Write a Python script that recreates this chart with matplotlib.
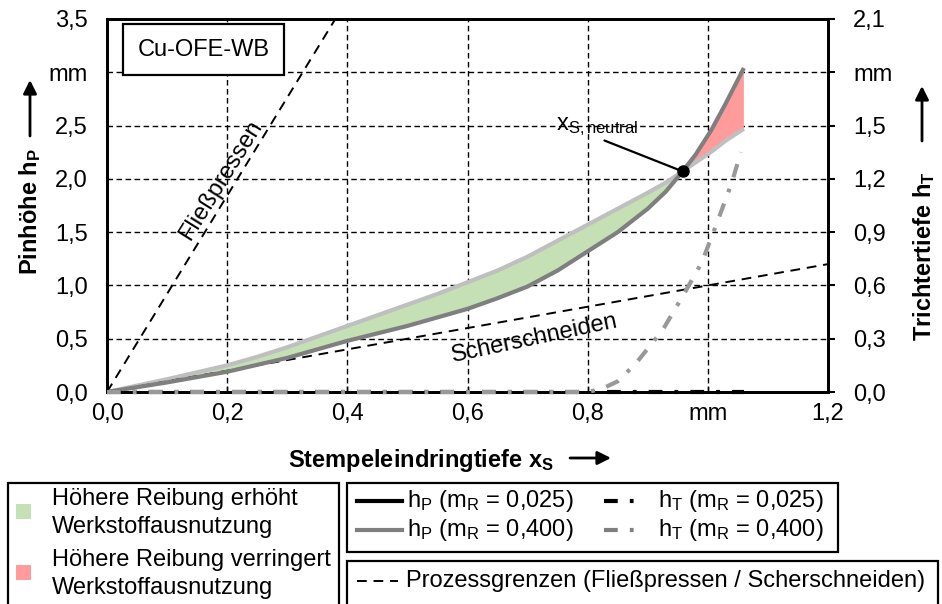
import numpy as np
import matplotlib
matplotlib.use('Agg')
import matplotlib.pyplot as plt
from matplotlib.patches import Rectangle
from matplotlib.lines import Line2D

plt.rcParams['font.family'] = ['Liberation Sans', 'DejaVu Sans']
plt.rcParams['mathtext.fontset'] = 'custom'
plt.rcParams['mathtext.rm'] = 'Liberation Sans'
plt.rcParams['mathtext.it'] = 'Liberation Sans'
plt.rcParams['mathtext.bf'] = 'Liberation Sans:bold'

FS = 17

# Stempeleindringtiefe x_S in mm
x_p = [0, 0.05, 0.1, 0.15, 0.2, 0.25, 0.3, 0.35, 0.4, 0.45, 0.5, 0.55, 0.6,
       0.65, 0.7, 0.75, 0.8, 0.85, 0.9, 0.93, 0.958, 0.98, 1.006, 1.03, 1.06]
# Pinhoehe h_P in mm
hp_low = [0, 0.045, 0.09, 0.14, 0.19, 0.255, 0.32, 0.40, 0.48, 0.55, 0.62, 0.70, 0.78,
          0.88, 0.99, 1.14, 1.32, 1.50, 1.72, 1.88, 2.07, 2.23, 2.46, 2.71, 3.04]
hp_high = [0, 0.06, 0.12, 0.185, 0.25, 0.33, 0.42, 0.52, 0.62, 0.72, 0.82, 0.92, 1.03,
           1.14, 1.27, 1.42, 1.57, 1.72, 1.87, 1.965, 2.07, 2.155, 2.255, 2.36, 2.47]

# Trichtertiefe h_T in mm
x_t_high = [0, 0.8, 0.825, 0.85, 0.88, 0.925, 0.96, 0.99, 1.015, 1.04, 1.055]
ht_high = [0, 0, 0.02, 0.06, 0.16, 0.35, 0.55, 0.73, 0.95, 1.18, 1.35]
x_t_low = [0, 1.06]
ht_low = [0, 0]

# Prozessgrenzen
x_fliess = [0, 0.38]
h_fliess = [0, 3.5]
x_scher = [0, 1.2]
h_scher = [0, 1.2]

x_neutral = 0.958
h_neutral = 2.07

xticks = [0, 0.2, 0.4, 0.6, 0.8, 1.0, 1.2]
xlabels = ['0,0', '0,2', '0,4', '0,6', '0,8', 'mm', '1,2']
yticks = [0, 0.5, 1.0, 1.5, 2.0, 2.5, 3.0, 3.5]
ylabels = ['0,0', '0,5', '1,0', '1,5', '2,0', '2,5', 'mm', '3,5']
y2ticks = [0, 0.3, 0.6, 0.9, 1.2, 1.5, 1.8, 2.1]
y2labels = ['0,0', '0,3', '0,6', '0,9', '1,2', '1,5', 'mm', '2,1']

W, H = 942, 604
fig = plt.figure(figsize=(W / 100, H / 100), dpi=100)
ax = fig.add_axes([107 / W, 1 - 392 / H, 721 / W, 373 / H])
ax2 = ax.twinx()

dark = '#7f7f7f'
light = '#bfbfbf'
green = '#c5e0b4'
red = '#ff9b9b'

xp = np.array(x_p)
lo = np.array(hp_low)
hi = np.array(hp_high)
ax.fill_between(xp, lo, hi, where=hi >= lo, interpolate=True, color=green, lw=0, zorder=2)
ax.fill_between(xp, lo, hi, where=lo >= hi, interpolate=True, color=red, lw=0, zorder=2)
ax.plot(x_p, hp_high, color=light, lw=3, zorder=3, solid_capstyle='butt', solid_joinstyle='round')
ax.plot(x_p, hp_low, color=dark, lw=3, zorder=4, solid_capstyle='butt', solid_joinstyle='round')

ax.plot(x_fliess, h_fliess, color='k', lw=1.4, ls=(0, (5, 3.5)), zorder=3)
ax.plot(x_scher, h_scher, color='k', lw=1.4, ls=(0, (5, 3.5)), zorder=3)

ax.plot([x_neutral], [h_neutral], 'o', color='k', ms=8, zorder=6)
ax.annotate(r'x$_\mathrm{S,neutral}$', xy=(x_neutral, h_neutral), xytext=(0.748, 2.46),
            fontsize=FS, ha='left', va='baseline',
            arrowprops=dict(arrowstyle='-', color='k', lw=1.6,
                            shrinkA=0, shrinkB=0, relpos=(0.5, 0)), zorder=6)

ax.text(0.19, 1.99, 'Fließpressen', fontsize=FS, rotation=58,
        ha='center', va='center', rotation_mode='anchor')
ax.text(0.712, 0.50, 'Scherschneiden', fontsize=FS, rotation=12,
        ha='center', va='center', rotation_mode='anchor')

ax.text(0.134, 0.918, 'Cu-OFE-WB', fontsize=FS, transform=ax.transAxes,
        ha='center', va='center',
        bbox=dict(boxstyle='square,pad=0.6', fc='white', ec='k', lw=1.6))

ax2.plot(x_t_low, ht_low, color='k', lw=3, ls=(0, (3.3, 2.9, 0.9, 2.9)), clip_on=False, zorder=5)
ax2.plot(x_t_high, ht_high, color='#999999', lw=3, ls=(0, (3.3, 2.9, 0.9, 2.9)),
         clip_on=False, zorder=5)

ax.set_xlim(0, 1.2)
ax.set_ylim(0, 3.5)
ax2.set_ylim(0, 2.1)
ax.set_xticks(xticks)
ax.set_xticklabels(xlabels)
ax.set_yticks(yticks)
ax.set_yticklabels(ylabels)
ax2.set_yticks(y2ticks)
ax2.set_yticklabels(y2labels)

ax.grid(True, color='k', lw=1.0, ls=(0, (4, 2.5)))
ax.set_axisbelow(True)
ax.tick_params(axis='x', direction='in', length=4, width=1, labelsize=FS, pad=8)
ax.tick_params(axis='y', direction='in', length=0, labelsize=FS, pad=14)
ax2.tick_params(axis='y', direction='out', length=5, width=1.5, labelsize=FS, pad=13)
for a in (ax, ax2):
    for s in a.spines.values():
        s.set_linewidth(2)
ax2.set_zorder(ax.get_zorder() + 1)

# overlay in pixel coordinates for axis titles and legends
lax = fig.add_axes([0, 0, 1, 1], facecolor='none')
lax.set_xlim(0, W)
lax.set_ylim(H, 0)
lax.axis('off')

arrow = dict(arrowstyle='-|>', color='k', lw=2, mutation_scale=20, shrinkA=0, shrinkB=0)
lax.text(30, 212, r'Pinhöhe $\mathbf{h_P}$', fontsize=FS, fontweight='bold',
         rotation=90, ha='center', va='center')
lax.annotate('', xy=(30, 80), xytext=(30, 136), arrowprops=arrow)
lax.text(924, 256, r'Trichtertiefe $\mathbf{h_T}$', fontsize=FS, fontweight='bold',
         rotation=90, ha='center', va='center')
lax.annotate('', xy=(922, 86), xytext=(922, 141), arrowprops=arrow)
lax.text(421, 461, r'Stempeleindringtiefe $\mathbf{x_S}$', fontsize=FS, fontweight='bold',
         ha='center', va='center')
lax.annotate('', xy=(611, 458), xytext=(570, 458), arrowprops=arrow)

# legend boxes
lax.add_patch(Rectangle((8, 483), 331, 140, fc='white', ec='k', lw=1.6))
lax.add_patch(Rectangle((347, 483), 491, 69, fc='white', ec='k', lw=1.6))
lax.add_patch(Rectangle((347, 561), 591, 60, fc='white', ec='k', lw=1.6))

lax.add_patch(Rectangle((16, 504), 15, 15, fc=green, ec='none'))
lax.add_patch(Rectangle((16, 565), 15, 15, fc=red, ec='none'))
lax.text(52, 513, 'Höhere Reibung erhöht\nWerkstoffausnutzung', fontsize=FS,
         ha='left', va='center', linespacing=1.36)
lax.text(52, 574, 'Höhere Reibung verringert\nWerkstoffausnutzung', fontsize=FS,
         ha='left', va='center', linespacing=1.36)

dd = (0, (3.3, 2.9, 0.9, 2.9))
lax.add_line(Line2D([357, 402], [501, 501], color='k', lw=3))
lax.add_line(Line2D([357, 402], [530, 530], color=dark, lw=3))
lax.add_line(Line2D([604, 635], [501, 501], color='k', lw=3, ls=dd))
lax.add_line(Line2D([604, 635], [530, 530], color=dark, lw=3, ls=dd))
lax.text(407, 501, r'h$_\mathrm{P}$ (m$_\mathrm{R}$ = 0,025)', fontsize=FS, ha='left', va='center')
lax.text(407, 530, r'h$_\mathrm{P}$ (m$_\mathrm{R}$ = 0,400)', fontsize=FS, ha='left', va='center')
lax.text(658, 501, r'h$_\mathrm{T}$ (m$_\mathrm{R}$ = 0,025)', fontsize=FS, ha='left', va='center')
lax.text(658, 530, r'h$_\mathrm{T}$ (m$_\mathrm{R}$ = 0,400)', fontsize=FS, ha='left', va='center')

lax.add_line(Line2D([357, 398], [581, 581], color='k', lw=1.4, ls=(0, (5, 3.5))))
lax.text(406, 581, 'Prozessgrenzen (Fließpressen / Scherschneiden)', fontsize=FS,
         ha='left', va='center')

fig.savefig('out.png', dpi=100)
